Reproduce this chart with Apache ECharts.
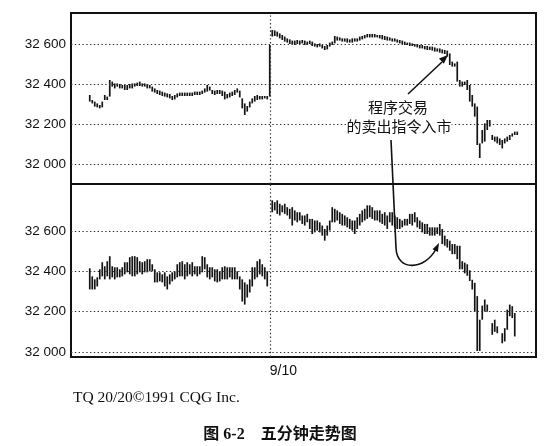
<!DOCTYPE html>
<html><head><meta charset="utf-8">
<script src="https://cdn.jsdelivr.net/npm/echarts@6/dist/echarts.min.js"></script>
<style>html,body{margin:0;padding:0;background:#fff}#c{width:558px;height:446px}</style>
</head><body><div id="c"></div>
<script>
// ---- data ----
const slotCount = 186;          // 5-minute slots across the x axis
const dateSlot = 79;            // session break (9/10 open)
const dateLabel = '9/10';
const yTicks = [32000, 32200, 32400, 32600];

// top panel (index) session 1, starting at slot 7
const idxStart1 = 7;
const idxHigh1 = [32345,32320,32312,32303,32295,32312,32345,32337,32420,32412,
32403,32403,32400,32395,32395,32395,32400,32403,32403,32407,
32412,32403,32403,32400,32395,32387,32378,32370,32367,32362,
32357,32353,32350,32340,32345,32353,32357,32357,32357,32357,
32357,32357,32362,32362,32362,32367,32378,32395,32387,32370,
32367,32370,32370,32367,32362,32350,32357,32362,32370,32378,
32367,32328,32303,32290,32312,32328,32340,32345,32340,32340,
32340,32340];
const idxLow1 = [32312,32303,32287,32283,32278,32283,32320,32320,32337,32387,
32378,32387,32378,32378,32370,32370,32378,32378,32387,32390,
32390,32387,32387,32378,32378,32362,32357,32350,32345,32340,
32337,32333,32328,32320,32323,32333,32340,32340,32340,32340,
32340,32340,32345,32345,32345,32350,32357,32362,32367,32350,
32345,32350,32350,32340,32323,32328,32333,32340,32345,32357,
32333,32278,32245,32262,32283,32303,32312,32320,32323,32323,
32328,32323];

// top panel (index) session 2, starting at slot 79
const idxStart2 = 79;
const idxHigh2 = [32595,32670,32668,
32662,32653,32645,32637,32628,32623,32617,32617,32620,32617,
32620,32617,32612,32617,32612,32603,32600,32603,32595,32590,
32595,32607,32612,32640,32637,32633,32628,32628,32628,32623,
32628,32628,32628,32637,32640,32645,32650,32650,32650,32650,
32645,32645,32645,32640,32637,32633,32628,32628,32623,32620,
32617,32612,32607,32607,32603,32600,32600,32595,32595,32590,
32590,32587,32587,32583,32578,32578,32573,32570,32567,32553,
32512,32503,32512,32420,32412,32412,32420,32395,32345,32303,
32287,32103,32170,32203,32220,32220,
32145,32137,32137,32128,32120,32128,32137,32145,32153,32162,32162];
const idxLow2 = [32337,32637,32640,
32637,32628,32620,32612,32607,32600,32600,32595,32600,32600,
32603,32595,32595,32600,32590,32587,32583,32587,32578,32570,
32573,32587,32595,32603,32617,32617,32612,32612,32607,32607,
32607,32612,32612,32617,32623,32628,32633,32633,32633,32633,
32633,32628,32623,32620,32617,32617,32612,32612,32607,32603,
32600,32595,32595,32590,32590,32587,32583,32578,32578,32573,
32570,32570,32567,32562,32562,32557,32553,32550,32537,32495,
32487,32487,32412,32387,32387,32395,32370,32312,32287,32237,
32095,32030,32103,32112,32170,32187,
32120,32112,32103,32095,32078,32103,32112,32120,32137,32145,32145];

// bottom panel (futures) session 1, starting at slot 7
const futStart1 = 7;
const futHigh1 = [32415,32375,32360,32370,32410,32445,32425,32450,32475,32425,
32420,32420,32410,32420,32445,32445,32470,32475,32475,32470,
32450,32445,32450,32460,32460,32435,32410,32395,32395,32385,
32395,32375,32385,32395,32400,32435,32445,32450,32435,32445,
32435,32445,32425,32425,32425,32475,32470,32435,32420,32420,
32410,32410,32400,32420,32425,32420,32420,32420,32420,32400,
32375,32360,32345,32335,32360,32420,32420,32450,32460,32435,
32420,32400];
const futLow1 = [32310,32310,32310,32325,32360,32375,32360,32375,32360,32370,
32360,32370,32370,32375,32385,32395,32385,32375,32375,32385,
32395,32385,32395,32395,32400,32400,32345,32345,32350,32345,
32325,32310,32335,32350,32360,32370,32375,32375,32360,32375,
32385,32375,32385,32375,32385,32395,32410,32370,32360,32370,
32350,32345,32350,32360,32360,32360,32370,32360,32360,32360,
32310,32250,32235,32270,32295,32325,32360,32370,32385,32375,
32360,32325];

// bottom panel (futures) session 2, starting at slot 80 (null = no bar)
const futStart2 = 80;
const futHigh2 = [32752,32743,32752,32735,32727,32735,32718,32710,32718,32702,
32693,32693,32677,32677,32685,32660,32660,32652,32652,32643,
32627,32610,32627,32652,32718,32710,32702,32693,32685,32677,
32668,32660,32652,32652,32668,32685,32702,32710,32727,32727,
32718,32702,32702,32702,32685,32693,32677,32693,32693,32677,
32668,32660,32652,32660,32660,32685,32685,32693,32668,32652,
32643,32635,32635,32618,32618,32618,32618,32635,32610,32577,
32560,32552,32535,32535,32527,32527,
32450,32443,32435,32405,32358,32343,32277,32160,32230,32260,32235,null,
32143,32160,32127,null,32093,32118,32210,32235,32227,32193];
const futLow2 = [32693,32702,32685,32677,32693,32685,32677,32660,32627,32652,
32643,32652,32635,32627,32643,32610,32585,32593,32602,32593,
32577,32552,32577,32602,32643,32643,32652,32635,32627,32627,
32618,32610,32602,32585,32610,32627,32643,32652,32660,32668,
32660,32652,32652,32643,32635,32627,32610,32643,32627,32618,
32610,32610,32618,32627,32627,32635,32627,32643,32618,32610,
32593,32585,32585,32577,32577,32577,32585,32577,32535,32527,
32518,32502,32485,32485,32460,32410,
32410,32390,32378,32352,32310,32200,32005,32005,32160,32200,32200,null,
32085,32100,32093,null,32043,32052,32110,32177,32168,32077];

// ---- build ----
function build(start, highs, lows) {
  const out = [];
  highs.forEach((h, i) => { if (h != null && lows[i] != null) out.push([start + i, h, lows[i]]); });
  return out;
}
const topData = build(idxStart1, idxHigh1, idxLow1).concat(build(idxStart2, idxHigh2, idxLow2));
const botData = build(futStart1, futHigh1, futLow1).concat(build(futStart2, futHigh2, futLow2));
const cats = Array.from({length: slotCount}, (_, i) => String(i));

function fmt(v) { return String(v).replace(/(\d+)(\d{3})$/, '$1 $2'); }

function renderBar(params, api) {
  const x = api.value(0);
  const hi = api.coord([x, api.value(1)]);
  const lo = api.coord([x, api.value(2)]);
  let y1 = hi[1], y2 = lo[1];
  if (y2 - y1 < 2) { const m = (y1 + y2) / 2; y1 = m - 1; y2 = m + 1; }
  return { type: 'line', shape: { x1: hi[0], y1: y1, x2: hi[0], y2: y2 },
           style: { stroke: '#141414', lineWidth: 1.7 } };
}

const gridLineStyle = { color: '#333', width: 1.2, type: [1.4, 2.4] };
function marks() {
  return {
    silent: true, symbol: ['none', 'none'], animation: false,
    label: { show: false },
    lineStyle: gridLineStyle,
    data: yTicks.map(v => ({ yAxis: v })).concat([{ xAxis: dateSlot }])
  };
}

const labelStyle = { color: '#111', fontSize: 13.5, fontFamily: 'Liberation Sans', margin: 5 };

const chart = echarts.init(document.getElementById('c'), null, { renderer: 'canvas' });
chart.setOption({
  animation: false,
  backgroundColor: '#fff',
  grid: [
    { left: 71, top: 13, width: 465, height: 171, show: true, borderColor: '#111', borderWidth: 2 },
    { left: 71, top: 184, width: 465, height: 173, show: true, borderColor: '#111', borderWidth: 2 }
  ],
  xAxis: [
    { type: 'category', gridIndex: 0, data: cats, axisLine: { show: false }, axisTick: { show: false },
      axisLabel: { show: false }, splitLine: { show: false } },
    { type: 'category', gridIndex: 1, data: cats, axisLine: { show: false }, axisTick: { show: false },
      splitLine: { show: false },
      axisLabel: { interval: 0, color: '#111', fontSize: 14, fontFamily: 'Liberation Sans', margin: 7, align: 'left',
        formatter: (v, i) => (i === dateSlot ? dateLabel : '') } }
  ],
  yAxis: [
    { type: 'value', gridIndex: 0, min: 31900, max: 32755, interval: 100,
      axisLine: { show: false }, axisTick: { show: false }, splitLine: { show: false },
      axisLabel: Object.assign({}, labelStyle, { showMaxLabel: false, showMinLabel: false,
        formatter: v => (yTicks.includes(v) ? fmt(v) : '') }) },
    { type: 'value', gridIndex: 1, min: 31975, max: 32833, interval: 25,
      axisLine: { show: false }, axisTick: { show: false }, splitLine: { show: false },
      axisLabel: Object.assign({}, labelStyle, { showMaxLabel: false, showMinLabel: false,
        formatter: v => (yTicks.includes(v) ? fmt(v) : '') }) }
  ],
  series: [
    { type: 'custom', xAxisIndex: 0, yAxisIndex: 0, renderItem: renderBar, data: topData,
      encode: { x: 0, y: [1, 2] }, markLine: marks(), z: 3 },
    { type: 'custom', xAxisIndex: 1, yAxisIndex: 1, renderItem: renderBar, data: botData,
      encode: { x: 0, y: [1, 2] }, markLine: marks(), z: 3 }
  ],
  graphic: [
    { type: 'text', x: 398, y: 107, z: 10,
      style: { text: '程序交易', fontSize: 15, fontFamily: 'Noto Sans CJK SC', fill: '#111',
               textAlign: 'center', textVerticalAlign: 'middle', backgroundColor: '#fff' } },
    { type: 'text', x: 399, y: 126, z: 10,
      style: { text: '的卖出指令入市', fontSize: 15, fontFamily: 'Noto Sans CJK SC', fill: '#111',
               textAlign: 'center', textVerticalAlign: 'middle', backgroundColor: '#fff' } },
    { type: 'line', z: 10, shape: { x1: 408, y1: 94, x2: 442, y2: 62 }, style: { stroke: '#111', lineWidth: 1.6 } },
    { type: 'polygon', z: 10, shape: { points: [[448, 55], [443.8, 63.7], [439.0, 58.5]] }, style: { fill: '#111' } },
    { type: 'line', z: 10, shape: { x1: 391, y1: 140, x2: 396, y2: 248 }, style: { stroke: '#111', lineWidth: 1.6 } },
    { type: 'bezierCurve', z: 10, shape: { x1: 396, y1: 248, cpx1: 397, cpy1: 272, cpx2: 425, cpy2: 270, x2: 436, y2: 249 },
      style: { stroke: '#111', lineWidth: 1.6, fill: null } },
    { type: 'polygon', z: 10, shape: { points: [[439, 243], [437.9, 252.0], [432.5, 249.2]] }, style: { fill: '#111' } },
    { type: 'text', x: 73, y: 398, z: 10,
      style: { text: 'TQ 20/20©1991 CQG Inc.', fontSize: 15.5, fontFamily: 'Liberation Serif', fill: '#111',
               textAlign: 'left', textVerticalAlign: 'middle' } },
    { type: 'text', x: 280, y: 435, z: 10,
      style: { text: '图 6-2    五分钟走势图', fontSize: 16, fontWeight: 'bold',
               fontFamily: 'Liberation Serif, Noto Sans CJK SC', fill: '#111',
               textAlign: 'center', textVerticalAlign: 'middle' } }
  ]
});
</script></body></html>
